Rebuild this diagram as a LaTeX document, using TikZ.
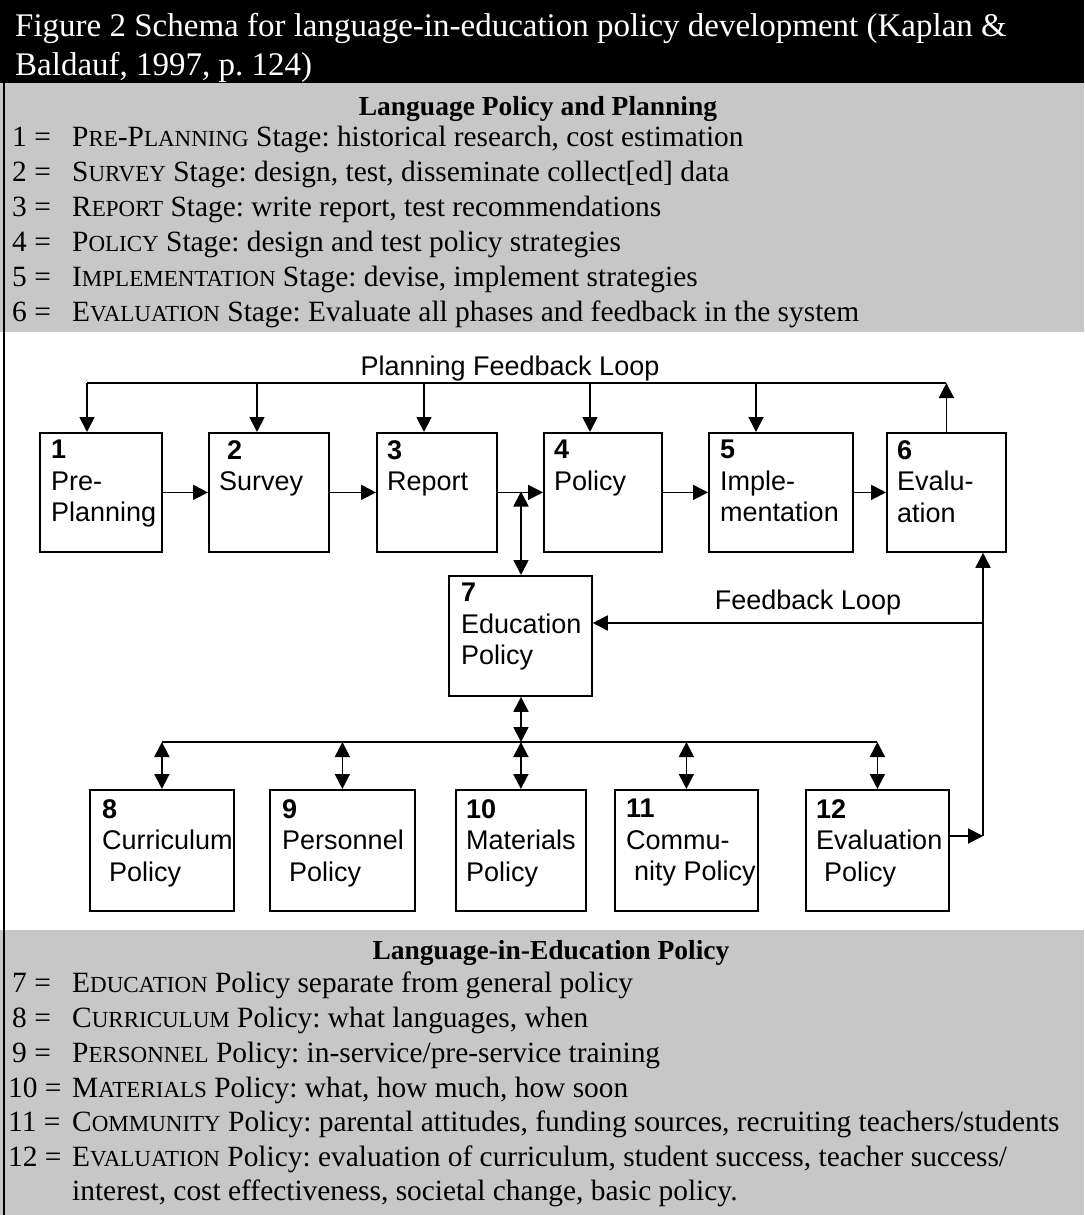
\documentclass[tikz,border=0pt]{standalone}
\usepackage{fontspec}
\setmainfont{Liberation Serif}
\setsansfont{Liberation Sans}
\usetikzlibrary{arrows.meta}
\newcommand\sco[1]{{\fontsize{23}{23}\selectfont #1}}
\definecolor{bandgray}{gray}{0.78}
\frenchspacing
\begin{document}
\begin{tikzpicture}[x=1pt,y=-1pt,
  box/.style={draw, line width=1.8pt, inner sep=0pt, anchor=north west},
  btxt/.style={font=\sffamily\fontsize{27}{31.5}\selectfont, align=left, anchor=north west, inner sep=0pt},
  lbl/.style={font=\sffamily\fontsize{27}{32}\selectfont, anchor=base, inner sep=0pt},
  ln/.style={line width=1.8pt},
  arr/.style={line width=1.8pt, -{Triangle[length=15pt,width=15pt]}},
  dbl/.style={line width=1.8pt, {Triangle[length=15pt,width=15pt]}-{Triangle[length=15pt,width=15pt]}},
  stxt/.style={font=\fontsize{29.4}{34}\selectfont, anchor=base west, inner sep=0pt},
  head/.style={font=\bfseries\fontsize{27.5}{32}\selectfont, anchor=base, inner sep=0pt},
  ttl/.style={font=\fontsize{33}{38}\selectfont, text=white, anchor=base west, inner sep=0pt}
]
\useasboundingbox (0,0) rectangle (1084,1215);
% bands
\fill[white] (0,0) rectangle (1084,1215);
\fill[black] (0,0) rectangle (1084,83);
\fill[bandgray] (0,83) rectangle (1084,332);
\fill[bandgray] (0,930) rectangle (1084,1215);
\draw[line width=2pt] (4,83) -- (4,1215);

% title
\node[ttl] (title1) at (15,37) {Figure 2 Schema for language-in-education policy development (Kaplan \&};
\node[ttl] (title2) at (15,75) {Baldauf, 1997, p. 124)};

% top legend
\node[head] (h1) at (538,115) {Language Policy and Planning};
\node[stxt] (n1) at (12,146) {1 =};
\node[stxt] (l1) at (72,146) {P\sco{RE}-P\sco{LANNING} Stage: historical research, cost estimation};
\node[stxt] (n2) at (12,181) {2 =};
\node[stxt] (l2) at (72,181) {S\sco{URVEY} Stage: design, test, disseminate collect[ed] data};
\node[stxt] (n3) at (12,216) {3 =};
\node[stxt] (l3) at (72,216) {R\sco{EPORT} Stage: write report, test recommendations};
\node[stxt] (n4) at (12,251) {4 =};
\node[stxt] (l4) at (72,251) {P\sco{OLICY} Stage: design and test policy strategies};
\node[stxt] (n5) at (12,286) {5 =};
\node[stxt] (l5) at (72,286) {I\sco{MPLEMENTATION} Stage: devise, implement strategies};
\node[stxt] (n6) at (12,321) {6 =};
\node[stxt] (l6) at (72,321) {E\sco{VALUATION} Stage: Evaluate all phases and feedback in the system};

% top boxes
\node[box, minimum width=122pt, minimum height=119pt] (b1) at (39,432) {};
\node[box, minimum width=120pt, minimum height=119pt] (b2) at (208,432) {};
\node[box, minimum width=120pt, minimum height=119pt] (b3) at (376,432) {};
\node[box, minimum width=118pt, minimum height=119pt] (b4) at (543,432) {};
\node[box, minimum width=144pt, minimum height=119pt] (b5) at (708,432) {};
\node[box, minimum width=119pt, minimum height=119pt] (b6) at (886,432) {};
\node[btxt] (t1) at (51,440) {\textbf{1}\\Pre-\\Planning};
\node[btxt] (t2) at (219,440) {\hspace*{8pt}\textbf{2}\\Survey};
\node[btxt] (t3) at (387,440) {\textbf{3}\\Report};
\node[btxt] (t4) at (554,440) {\textbf{4}\\Policy};
\node[btxt] (t5) at (720,440) {\textbf{5}\\Imple-\\mentation};
\node[btxt] (t6) at (897,440) {\textbf{6}\\Evalu-\\ation};

% box 7
\node[box, minimum width=143pt, minimum height=120pt] (b7) at (448,575) {};
\node[btxt] (t7) at (461,583) {\textbf{7}\\Education\\Policy};

% bottom boxes
\node[box, minimum width=144pt, minimum height=121pt] (b8) at (89,789) {};
\node[box, minimum width=145pt, minimum height=121pt] (b9) at (269,789) {};
\node[box, minimum width=130pt, minimum height=121pt] (b10) at (455,789) {};
\node[box, minimum width=143pt, minimum height=121pt] (b11) at (614,789) {};
\node[box, minimum width=143pt, minimum height=121pt] (b12) at (805,789) {};
\node[btxt] (t8) at (102,799) {\textbf{8}\\Curriculum\\\hspace*{7pt}Policy};
\node[btxt] (t9) at (282,799) {\textbf{9}\\Personnel\\\hspace*{7pt}Policy};
\node[btxt] (t10) at (466,799) {\textbf{10}\\Materials\\Policy};
\node[btxt] (t11) at (626,799) {\textbf{11}\\Commu-\\\hspace*{8pt}nity Policy};
\node[btxt] (t12) at (816,799) {\textbf{12}\\Evaluation\\\hspace*{8pt}Policy};

% planning feedback loop
\node[lbl] (pfl) at (510,375) {Planning Feedback Loop};
\coordinate (fbL) at (87,383);
\coordinate (fbR) at (b6.north |- fbL);
\coordinate (f2) at (257,383);
\coordinate (f3) at (424,383);
\coordinate (f4) at (590,383);
\coordinate (f5) at (756,383);
\draw[ln] (fbL) -- (fbR);
\draw[arr] (fbL) -- (fbL |- b1.north);
\draw[arr] (f2) -- (f2 |- b2.north);
\draw[arr] (f3) -- (f3 |- b3.north);
\draw[arr] (f4) -- (f4 |- b4.north);
\draw[arr] (f5) -- (f5 |- b5.north);
\draw[arr] (b6.north) -- (fbR);

% stage arrows
\draw[arr] (b1) -- (b2);
\draw[arr] (b2) -- (b3);
\draw[arr] (b3) -- (b4);
\draw[arr] (b4) -- (b5);
\draw[arr] (b5) -- (b6);

% link to education policy
\coordinate (j34) at (521,491.5);
\draw[dbl] (j34) -- (j34 |- b7.north);
\coordinate (bus7) at (521,742);
\draw[dbl] (b7.south -| j34) -- (bus7);

% bus
\coordinate (busL) at (b8.north |- bus7);
\coordinate (busR) at (b12.north |- bus7);
\draw[ln] (busL) -- (busR);
\draw[dbl] (busL) -- (b8.north);
\draw[dbl] (b9.north |- bus7) -- (b9.north);
\draw[dbl] (b10.north |- bus7) -- (b10.north);
\draw[dbl] (b11.north |- bus7) -- (b11.north);
\draw[dbl] (busR) -- (b12.north);

% feedback loop
\coordinate (fr) at (983,836);
\coordinate (fm) at (983,623);
\draw[arr] (b12.east |- fr) -- (fr);
\draw[arr] (fr) -- (fr |- b6.south);
\draw[arr] (fm) -- (fm -| b7.east);
\node[lbl] (fl) at (808,609) {Feedback Loop};

% bottom legend
\node[head] (h2) at (551,959) {Language-in-Education Policy};
\node[stxt] (n7) at (12,992) {7 =};
\node[stxt] (l7) at (72,992) {E\sco{DUCATION} Policy separate from general policy};
\node[stxt] (n8) at (12,1027) {8 =};
\node[stxt] (l8) at (72,1027) {C\sco{URRICULUM} Policy: what languages, when};
\node[stxt] (n9) at (12,1062) {9 =};
\node[stxt] (l9) at (72,1062) {P\sco{ERSONNEL} Policy: in-service/pre-service training};
\node[stxt] (n10) at (8,1097) {10 =};
\node[stxt] (l10) at (72,1097) {M\sco{ATERIALS} Policy: what, how much, how soon};
\node[stxt] (n11) at (8,1131) {11 =};
\node[stxt] (l11) at (72,1131) {C\sco{OMMUNITY} Policy: parental attitudes, funding sources, recruiting teachers/students};
\node[stxt] (n12) at (8,1166) {12 =};
\node[stxt] (l12) at (72,1166) {E\sco{VALUATION} Policy: evaluation of curriculum, student success, teacher success/};
\node[stxt] (l12b) at (72,1200) {interest, cost effectiveness, societal change, basic policy.};
\end{tikzpicture}
\end{document}
